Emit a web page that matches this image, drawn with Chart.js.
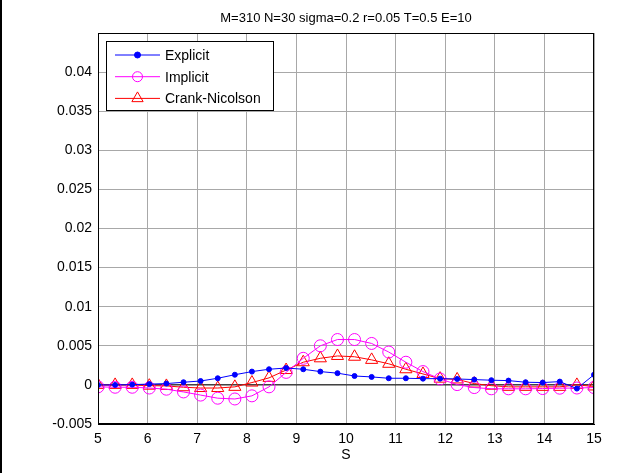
<!DOCTYPE html>
<html>
<head>
<meta charset="utf-8">
<script src="https://cdn.jsdelivr.net/npm/chart.js@4/dist/chart.umd.min.js"></script>
<style>
  body { margin: 0; background: #fff; }
  #wrap { position: relative; width: 632px; height: 473px; }
  #edge { position: absolute; left: 0; top: 0; width: 2px; height: 473px; background: #000; }
</style>
</head>
<body>
<div id="wrap">
  <canvas id="grafico" width="632" height="473"></canvas>
  <div id="edge"></div>
</div>
<script>
const titulo = 'M=310 N=30 sigma=0.2 r=0.05 T=0.5 E=10';

// 30 nodes from S=5 to S=15
const sValues = [5, 5.345, 5.69, 6.034, 6.379, 6.724, 7.069, 7.414, 7.759, 8.103,
  8.448, 8.793, 9.138, 9.483, 9.828, 10.172, 10.517, 10.862, 11.207, 11.552,
  11.897, 12.241, 12.586, 12.931, 13.276, 13.621, 13.966, 14.31, 14.655, 15];

const explicitValues = [0, 0, 0.00004, 0.0001, 0.00017, 0.00034, 0.0005, 0.00085, 0.0013, 0.0017,
  0.002, 0.00216, 0.002, 0.0017, 0.0015, 0.00114, 0.00102, 0.00085, 0.00085, 0.0008,
  0.0008, 0.00076, 0.00068, 0.0006, 0.00055, 0.00034, 0.0003, 0.00042, -0.00047, 0.0013];

const implicitValues = [-0.00025, -0.0003, -0.0003, -0.0004, -0.00055, -0.0009, -0.0013, -0.0017, -0.0018, -0.0014,
  -0.00025, 0.0016, 0.0034, 0.005, 0.0058, 0.0058, 0.0053, 0.0042, 0.0029, 0.0017,
  0.00076, 0.00004, -0.00034, -0.0005, -0.0005, -0.0005, -0.00047, -0.00042, -0.0004, -0.00034];

const crankValues = [0, 0, 0, -0.0001, -0.00013, -0.0003, -0.0004, -0.0004, -0.00025, 0.0003,
  0.0009, 0.0019, 0.0029, 0.0034, 0.0037, 0.0036, 0.0032, 0.0027, 0.002, 0.0014,
  0.0008, 0.0007, 0.00017, -0.0001, -0.00025, -0.00025, -0.00025, -0.00025, 0, -0.0002];

const zeroLineS = [5, 15];
const zeroLineValues = [0, 0];

const yTicks = [-0.005, 0, 0.005, 0.01, 0.015, 0.02, 0.025, 0.03, 0.035, 0.04];

const fonte = 'Liberation Sans, Arial, Helvetica, sans-serif';

function pontos(xs, ys) {
    return xs.map((x, i) => ({ x: x, y: ys[i] }));
}

const series = [
    { label: 'Explicit', data: pontos(sValues, explicitValues), color: '#0000ff', style: 'circle', radius: 2.5, fill: '#0000ff' },
    { label: 'Implicit', data: pontos(sValues, implicitValues), color: '#ff00ff', style: 'circle', radius: 6, fill: 'rgba(0,0,0,0)' },
    { label: 'Crank-Nicolson', data: pontos(sValues, crankValues), color: '#ff0000', style: 'triangle', radius: 7, fill: 'rgba(0,0,0,0)' }
];

const datasets = series.map(s => ({
    label: s.label,
    data: s.data,
    borderColor: s.color,
    backgroundColor: s.fill,
    borderWidth: 1,
    pointStyle: s.style,
    pointRadius: s.radius,
    pointBorderWidth: 1,
    pointBackgroundColor: s.fill,
    pointBorderColor: s.color,
    tension: 0
}));

datasets.unshift({
    label: 'zero',
    data: pontos(zeroLineS, zeroLineValues),
    borderColor: '#000',
    borderWidth: 1,
    pointRadius: 0,
    order: 10
});

// title over the plot area and legend box in the upper left corner
const extras = {
    id: 'extras',
    afterDraw(chart) {
        const c = chart.ctx;
        const a = chart.chartArea;
        c.save();
        c.fillStyle = '#000';
        c.font = '13px ' + fonte;
        c.textAlign = 'center';
        c.textBaseline = 'middle';
        c.fillText(titulo, (a.left + a.right) / 2, 18);

        const bx = a.left + 8, by = a.top + 8, bw = 167, bh = 69;
        c.fillStyle = '#fff';
        c.fillRect(bx, by, bw, bh);
        c.strokeStyle = '#000';
        c.lineWidth = 1;
        c.strokeRect(bx + 0.5, by + 0.5, bw, bh);

        c.font = '14px ' + fonte;
        c.textAlign = 'left';
        series.forEach((s, i) => {
            const y = by + 14 + i * 21.7;
            c.strokeStyle = s.color;
            c.beginPath();
            c.moveTo(bx + 9, y);
            c.lineTo(bx + 54, y);
            c.stroke();
            c.fillStyle = s.fill;
            Chart.helpers.drawPoint(c, {
                pointStyle: s.style,
                radius: s.style === 'triangle' ? 6.5 : (s.radius > 3 ? 5 : 3),
                borderWidth: 1
            }, bx + 31.5, y);
            c.fillStyle = '#000';
            c.fillText(s.label, bx + 59, y + 1);
        });
        c.restore();
    }
};

const moldura = {
    id: 'moldura',
    afterDatasetsDraw(chart) {
        const a = chart.chartArea;
        const c = chart.ctx;
        c.save();
        c.strokeStyle = '#000';
        c.lineWidth = 1;
        c.strokeRect(a.left + 0.5, a.top + 0.5, a.right - a.left - 1, a.bottom - a.top - 1);
        c.restore();
    }
};

const ctx = document.getElementById('grafico');

new Chart(ctx, {
    type: 'line',
    data: { datasets: datasets },
    plugins: [extras, moldura],
    options: {
        responsive: false,
        animation: false,
        layout: { padding: { top: 33, right: 38, left: 0, bottom: 0 } },
        plugins: {
            legend: { display: false },
            tooltip: { enabled: false }
        },
        scales: {
            x: {
                type: 'linear',
                min: 5,
                max: 15,
                afterFit: s => { s.height = 49; },
                ticks: { stepSize: 1, color: '#000', padding: 7, font: { size: 14, family: fonte } },
                grid: { color: '#a8a8a8', drawTicks: false },
                border: { color: '#000', width: 1 },
                title: { display: true, text: 'S', color: '#000', padding: { top: 0, bottom: 9 }, font: { size: 14, family: fonte } }
            },
            y: {
                min: -0.005,
                max: 0.045,
                afterFit: s => { s.width = 98; },
                afterBuildTicks: s => { s.ticks = yTicks.concat([0.045]).map(v => ({ value: v })); },
                ticks: {
                    color: '#000',
                    padding: 6,
                    font: { size: 14, family: fonte },
                    callback: v => (v > 0.0425 ? '' : String(Number(v.toFixed(3))))
                },
                grid: { color: '#a8a8a8', drawTicks: false },
                border: { color: '#000', width: 1 }
            }
        }
    }
});
</script>
</body>
</html>
